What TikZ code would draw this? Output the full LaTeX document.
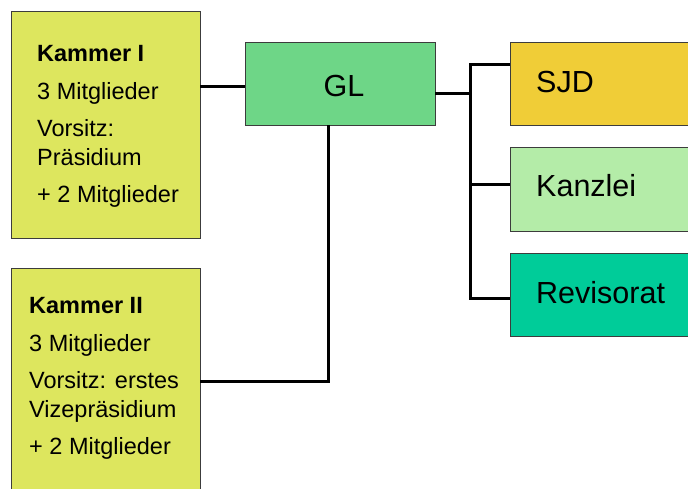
\documentclass[tikz,border=0pt]{standalone}
\usepackage{fontspec}
\setmainfont{Liberation Sans}
\definecolor{kammer}{RGB}{221,230,94}
\definecolor{glc}{RGB}{110,214,135}
\definecolor{sjdc}{RGB}{240,205,55}
\definecolor{kanz}{RGB}{180,236,168}
\definecolor{revi}{RGB}{0,204,153}
\definecolor{edge}{RGB}{60,60,60}
\tikzset{
  box/.style={draw=edge, line width=0.8pt, anchor=north west, inner sep=0pt, outer sep=0pt},
  small/.style={anchor=base west, inner sep=0pt, font=\fontsize{23.5}{28}\selectfont},
  smallb/.style={small, font=\fontsize{23.5}{28}\selectfont\bfseries},
  big/.style={inner sep=0pt, font=\fontsize{30.5}{36}\selectfont},
  conn/.style={line width=3pt, black}
}
\begin{document}
\begin{tikzpicture}[x=1pt,y=-1pt]
\useasboundingbox (0,0) rectangle (688,489);
\fill[white] (0,0) rectangle (688,489);
% boxes
\node[box, fill=kammer, minimum width=189pt, minimum height=227pt] (k1) at (11,11) {};
\node[box, fill=kammer, minimum width=189pt, minimum height=240pt] (k2) at (11,268) {};
\node[box, fill=glc, minimum width=190pt, minimum height=83pt] (gl) at (245,42) {};
\node[box, fill=sjdc, minimum width=190pt, minimum height=83pt] (sjd) at (510,42) {};
\node[box, fill=kanz, minimum width=190pt, minimum height=84pt] (kanz) at (510,147) {};
\node[box, fill=revi, minimum width=190pt, minimum height=83pt] (rev) at (510,253) {};
% texts Kammer I
\node[smallb] (k1a) at (37,62) {Kammer I};
\node[small] (k1b) at (37,100) {3 Mitglieder};
\node[small] (k1c) at (37,137) {Vorsitz:};
\node[small] (k1d) at (37,166) {Präsidium};
\node[small] (k1e) at (37,203) {+ 2 Mitglieder};
% texts Kammer II
\node[smallb] (k2a) at (29,313) {Kammer II};
\node[small] (k2b) at (29,351) {3 Mitglieder};
\node[small] (k2c) at (29,388) {Vorsitz: erstes};
\node[small] (k2d) at (29,417) {Vizepräsidium};
\node[small] (k2e) at (29,454) {+ 2 Mitglieder};
% big labels
\node[big, anchor=base] (glt) at (344,97) {GL};
\node[big, anchor=base west] (sjdt) at (536,93) {SJD};
\node[big, anchor=base west] (kanzt) at (536,197) {Kanzlei};
\node[big, anchor=base west] (revt) at (536,303) {Revisorat};
% connectors
\coordinate (bt) at (472,65);
\coordinate (bb) at (472,298);
\coordinate (bm) at (472,94);
\coordinate (down) at (328,381);
\draw[conn] (k1.east |- 0,87) -- (gl.west |- 0,87);
\draw[conn] (gl.south -| down) -- (down) -- (k2.east |- down);
\draw[conn] (gl.east |- bm) -- (bm);
\draw[conn] (sjd.west |- bt) -- ([xshift=-1.5pt]bt) -- ([xshift=-1.5pt]bb) -- (rev.west |- bb);
\draw[conn] (bt |- 0,185) -- (kanz.west |- 0,185);
\end{tikzpicture}
\end{document}
